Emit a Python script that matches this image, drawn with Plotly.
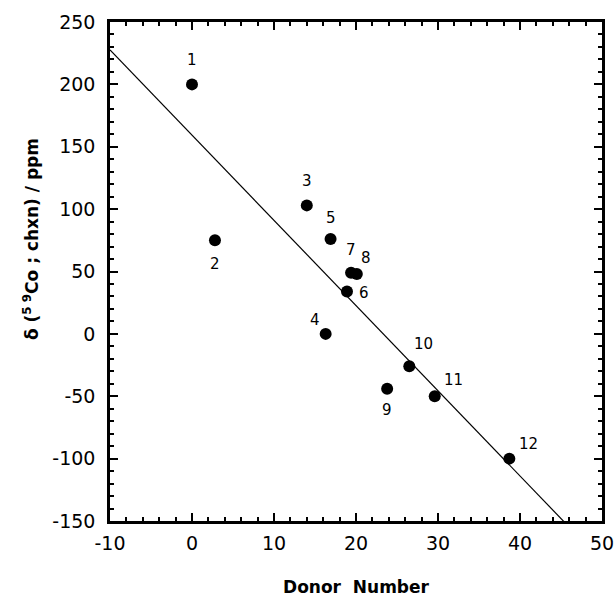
import plotly.graph_objects as go
import numpy as np

# Data
labels = ["1", "2", "3", "4", "5", "6", "7", "8", "9", "10", "11", "12"]
donor_number = [0.0, 2.8, 14.0, 16.3, 16.9, 18.9, 19.4, 20.1, 23.8, 26.5, 29.6, 38.7]
shift_ppm = [200, 75, 103, 0, 76, 34, 49, 48, -44, -26, -50, -100]

# Tick values / labels (hyphen as in the reference)
x_tickvals = [-10, 0, 10, 20, 30, 40, 50]
x_ticktext = ["-10", "0", "10", "20", "30", "40", "50"]
y_tickvals = [-150, -100, -50, 0, 50, 100, 150, 200, 250]
y_ticktext = ["-150", "-100", "-50", "0", "50", "100", "150", "200", "250"]

x_title = "<b>Donor  Number</b>"
y_title = "<b>δ (<sup>5 9</sup>Co ; chxn) / ppm</b>"

# Fitted line parameters
fit_slope = -6.83
fit_intercept = 159.3
fit_x = [-10, 50]

# label offsets in pixels (style)
label_dx = [0, 0, 0, -11, 0, 17, 0, 9, 0, 14, 19, 19]
label_dy = [24, -24, 24, 14, 21, -2, 23, 16, -21, 22, 16, 15]

FONT = "DejaVu Sans, Arial, Helvetica, sans-serif"
W, H = 615, 597
ML, MR, MT, MB = 110, 13, 22, 76

fig = go.Figure()

fx = np.array(fit_x, dtype=float)
fig.add_trace(go.Scatter(
    x=fx, y=fit_intercept + fit_slope * fx, mode="lines",
    line=dict(color="black", width=1.2), hoverinfo="skip", showlegend=False))

fig.add_trace(go.Scatter(
    x=donor_number, y=shift_ppm, mode="markers",
    marker=dict(color="black", size=12), showlegend=False))

for lab, xv, yv, dx, dy in zip(labels, donor_number, shift_ppm, label_dx, label_dy):
    fig.add_annotation(x=xv, y=yv, text=lab, showarrow=False,
                       xshift=dx, yshift=dy,
                       font=dict(family=FONT, size=15, color="black"))

# y-axis title placed as in the reference (centre near y=239 px, x=31 px)
plot_h = H - MT - MB
plot_w = W - ML - MR
fig.add_annotation(
    xref="paper", yref="paper",
    x=(31 - ML) / plot_w, y=(H - MB - 239) / plot_h,
    text=y_title, textangle=-90, showarrow=False,
    xanchor="center", yanchor="middle",
    font=dict(family=FONT, size=17, color="black"))

axis_common = dict(
    showline=True, linewidth=2.5, linecolor="black", mirror="ticks",
    ticks="inside", ticklen=8, tickwidth=2, tickcolor="black",
    showgrid=False, zeroline=False, automargin=False,
    tickfont=dict(family=FONT, size=19, color="black"),
)

fig.update_xaxes(
    range=[-10, 50], tickmode="array", tickvals=x_tickvals, ticktext=x_ticktext,
    ticklabelstandoff=3,
    minor=dict(ticks="inside", ticklen=4, tickwidth=1.5, tickcolor="black", dtick=2, tick0=-10),
    title=dict(text=x_title, font=dict(family=FONT, size=17, color="black"), standoff=29),
    **axis_common)
fig.update_yaxes(
    range=[-150, 250], tickmode="array", tickvals=y_tickvals, ticktext=y_ticktext,
    ticklabelstandoff=8,
    minor=dict(ticks="inside", ticklen=4, tickwidth=1.5, tickcolor="black", dtick=10, tick0=-150),
    **axis_common)

fig.update_layout(
    width=W, height=H,
    margin=dict(l=ML, r=MR, t=MT, b=MB, autoexpand=False),
    paper_bgcolor="white", plot_bgcolor="white",
    showlegend=False,
)

fig.write_html("out.html")
